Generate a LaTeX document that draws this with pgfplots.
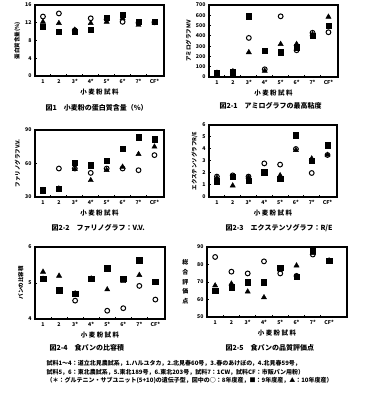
\documentclass[border=0pt]{standalone}
\usepackage{fontspec}
\setmainfont{Noto Sans CJK JP}
\usepackage{pgfplots}
\pgfplotsset{compat=1.18}
\pgfplotsset{
 panel/.style={
  scale only axis,
  axis line style={line width=1.5pt},
  xmin=0.5, xmax=8.6,
  xtick={1,...,8},
  xticklabels={1,2,3*,4*,5*,6*,7*,CF*},
  minor xtick={1.5,2.5,...,7.5},
  xtick pos=bottom, ytick pos=left,
  tick align=inside,
  major x tick style={draw=none},
  minor tick length=2pt, major tick length=2pt,
  tick style={line width=1pt, black},
  tick label style={font=\fontsize{5.2}{6}\selectfont\bfseries},
  /pgf/number format/assume math mode=true,
  xlabel={小 麦 粉 試 料},
  xlabel style={font=\fontsize{6.5}{7}\selectfont\bfseries, yshift=2pt},
  ylabel style={font=\fontsize{5.5}{6}\selectfont\bfseries, yshift=-2pt},
  clip=false,
 },
 o/.style={only marks, mark=o, mark size=2.4pt, mark options={line width=1pt}, black},
 s/.style={only marks, mark=square*, mark size=2.7pt, black},
 t/.style={only marks, mark=triangle*, mark size=3pt, black},
}
\newcommand\capt[1]{{\fontsize{7}{8}\selectfont\bfseries #1}}
\begin{document}
\begin{tikzpicture}
\path[use as bounding box] (0pt,0pt) rectangle (365pt,-395pt);

% Fig 1
\begin{axis}[panel, at={(35pt,-5pt)}, anchor=north west, width=129pt, height=71pt,
  ymin=0, ymax=16, ytick={0,4,8,12,16}, ylabel={蛋白質含量(\%)}]
\addplot[s] coordinates {(1,11.1)(2,10.0)(3,10.0)(4,10.4)(5,13.2)(6,13.8)(7,12.2)(8,12.2)};
\addplot[t] coordinates {(1,12.2)(2,11.9)(3,10.4)(4,11.9)(5,12.2)(6,13.0)(7,11.5)(8,12.0)};
\addplot[o] coordinates {(1,13.4)(2,14.1)(3,10.3)(4,13.0)(5,12.8)(6,12.2)(7,12.0)(8,12.1)};
\end{axis}
\node[anchor=west] at (42pt,-108pt) {\capt{図1　小麦粉の蛋白質含量（\%）}};

% Fig 2-1
\begin{axis}[panel, at={(209pt,-5pt)}, anchor=north west, width=129pt, height=72pt,
  ymin=0, ymax=700, ytick={0,100,...,700}, ylabel={アミログラフMV}]
\addplot[s] coordinates {(1,35)(2,45)(3,590)(4,255)(5,240)(6,290)(7,400)(8,500)};
\addplot[t] coordinates {(1,40)(2,55)(3,240)(4,60)(5,320)(6,320)(7,415)(8,585)};
\addplot[o] coordinates {(1,40)(2,50)(3,380)(4,75)(5,590)(6,260)(7,430)(8,435)};
\end{axis}
\node[anchor=west] at (216pt,-106pt) {\capt{図2-1　アミログラフの最高粘度}};

% Fig 2-2
\begin{axis}[panel, at={(35pt,-130pt)}, anchor=north west, width=129pt, height=67pt,
  ymin=30, ymax=90, ytick={30,60,90}, ylabel={ファリノグラフV.V.}]
\addplot[s] coordinates {(1,36)(2,37.5)(3,60.6)(4,58.5)(5,62.4)(6,73.5)(7,83.4)(8,81.6)};
\addplot[t] coordinates {(1,36)(2,37.5)(3,55)(4,45)(5,54)(6,57)(7,68.4)(8,75)};
\addplot[o] coordinates {(1,36)(2,55.5)(3,55.5)(4,51.6)(5,55.5)(6,55.5)(7,54)(8,67.5)};
\end{axis}
\node[anchor=west] at (48pt,-228pt) {\capt{図2-2　ファリノグラフ：V.V.}};

% Fig 2-3
\begin{axis}[panel, at={(209pt,-125pt)}, anchor=north west, width=128pt, height=72pt,
  ymin=0, ymax=6, ytick={0,...,6}, ylabel={エクステンソグラフR/E}]
\addplot[s] coordinates {(1,1.3)(2,1.7)(3,1.35)(4,2.05)(5,1.5)(6,5.15)(7,3.0)(8,4.3)};
\addplot[t] coordinates {(1,1.6)(2,0.95)(3,1.65)(4,1.9)(5,1.8)(6,3.9)(7,3.2)(8,3.5)};
\addplot[o] coordinates {(1,1.7)(2,1.8)(3,1.7)(4,2.8)(5,2.7)(6,4.0)(7,2.0)(8,3.5)};
\end{axis}
\node[anchor=west] at (222pt,-228pt) {\capt{図2-3　エクステンソグラフ：R/E}};

% Fig 2-4
\begin{axis}[panel, at={(35pt,-247pt)}, anchor=north west, width=130pt, height=72pt,
  ymin=4, ymax=6, ytick={4,5,6}, ylabel={パンの比容積}]
\addplot[s] coordinates {(1,5.12)(2,4.8)(3,4.71)(4,5.12)(5,5.41)(6,5.12)(7,5.63)(8,5.03)};
\addplot[t] coordinates {(1,5.31)(2,5.2)(3,4.71)(4,5.12)(5,4.82)(6,5.05)(7,5.22)(8,5.0)};
\addplot[o] coordinates {(1,5.12)(2,4.8)(3,4.51)(4,5.12)(5,4.23)(6,4.3)(7,4.92)(8,4.54)};
\end{axis}
\node[anchor=west] at (46pt,-348pt) {\capt{図2-4　食パンの比容積}};

% Fig 2-5
\begin{axis}[panel, at={(207pt,-247pt)}, anchor=north west, width=140pt, height=70pt,
  xmax=9.1,
  ymin=50, ymax=90, ytick={50,60,...,90},
  ylabel={\shortstack{総\\[1pt]合\\[1pt]評\\[1pt]価\\[1pt]点}},
  ylabel style={rotate=-90, xshift=-4pt, font=\fontsize{6}{7}\selectfont\bfseries}]
\addplot[s] coordinates {(1,65.1)(2,67)(3,70)(4,70)(5,78.2)(6,73)(7,88)(8,82.2)};
\addplot[t] coordinates {(1,68)(2,69)(3,64.5)(4,61.2)(5,77)(6,79.4)(7,86.5)(8,82.2)};
\addplot[o] coordinates {(1,84.3)(2,75.9)(3,74.9)(4,81.8)(5,74.9)(6,73.5)(7,85.7)(8,82.2)};
\end{axis}
\node[anchor=west] at (222pt,-348pt) {\capt{図2-5　食パンの品質評価点}};

% footer
\node[anchor=north west, align=left, font=\fontsize{6}{8.4}\selectfont\bfseries] at (43pt,-357pt)
{試料1～4：道立北見農試系，1.ハルユタカ，2.北見春60号，3.春のあけぼの，4.北見春59号，\\
試料5，6：東北農試系，5.東北189号，6.東北203号，試料7：1CW，試料CF：市販パン用粉）\\
（＊：グルテニン・サブユニット(5+10)の遺伝子型，図中の○：8年度産，■：9年度産，▲：10年度産）};
\end{tikzpicture}
\end{document}
